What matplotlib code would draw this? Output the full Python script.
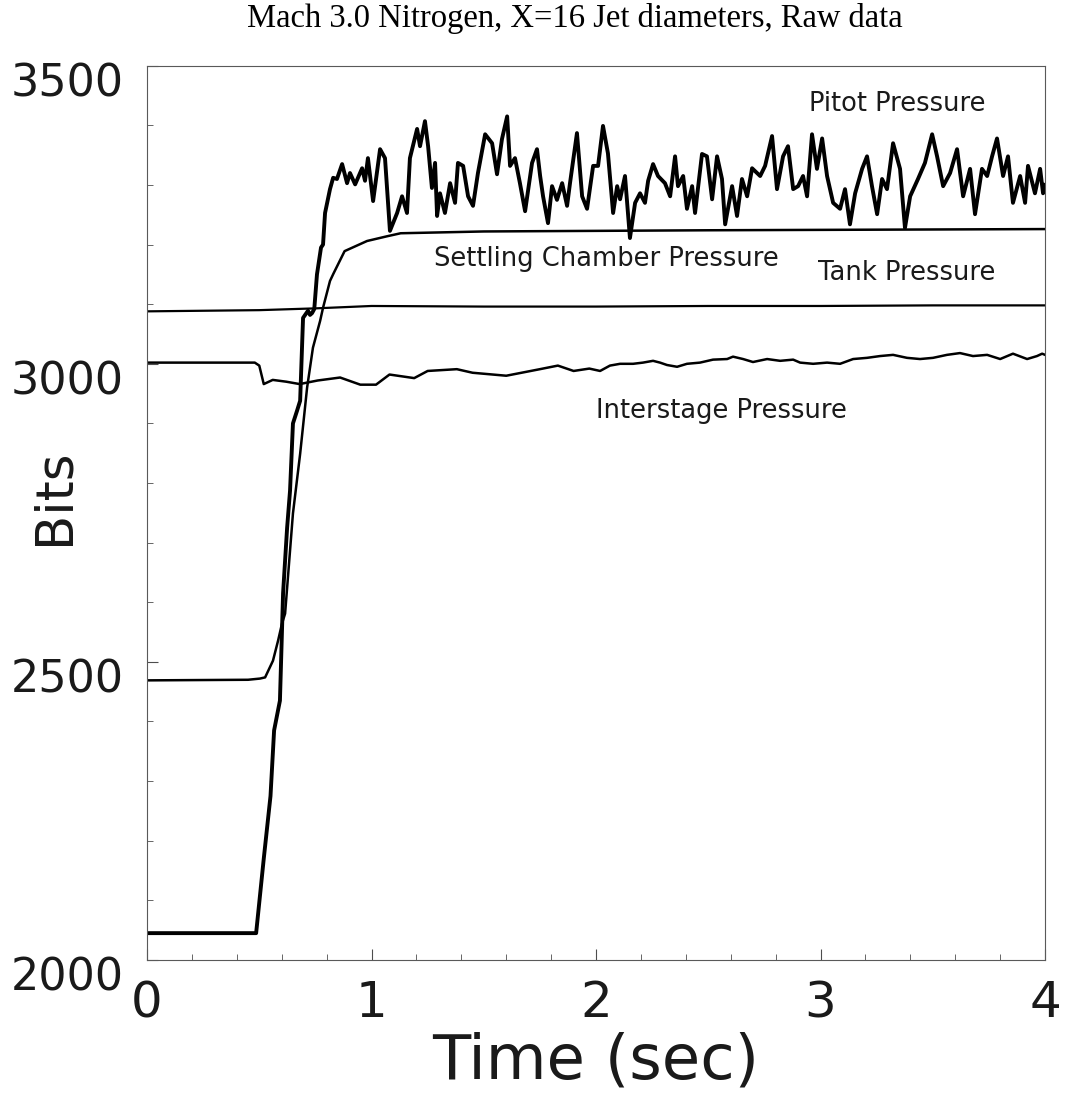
import matplotlib.pyplot as plt
from matplotlib.ticker import MultipleLocator
from matplotlib.transforms import ScaledTranslation

# values (time in sec, bits)
pitot_t = [0.0, 0.486, 0.52, 0.55, 0.566, 0.592, 0.606, 0.624, 0.637, 0.650, 0.668, 0.682, 0.695, 0.717,
           0.726, 0.735, 0.745, 0.757, 0.775, 0.784, 0.793, 0.815, 0.829, 0.846, 0.869, 0.891, 0.904, 0.927,
           0.958, 0.971, 0.984, 1.007, 1.038, 1.060, 1.082, 1.114, 1.136, 1.158, 1.171, 1.203, 1.216, 1.238,
           1.252, 1.269, 1.283, 1.292, 1.305, 1.327, 1.350, 1.372, 1.385, 1.408, 1.430, 1.452, 1.474, 1.506,
           1.537, 1.559, 1.581, 1.604, 1.617, 1.639, 1.661, 1.684, 1.715, 1.737, 1.751, 1.764, 1.786, 1.804,
           1.826, 1.849, 1.871, 1.884, 1.915, 1.938, 1.960, 1.987, 2.009, 2.031, 2.053, 2.076, 2.094, 2.107,
           2.129, 2.151, 2.174, 2.196, 2.218, 2.232, 2.254, 2.276, 2.307, 2.330, 2.352, 2.365, 2.388, 2.405,
           2.428, 2.441, 2.472, 2.494, 2.517, 2.539, 2.561, 2.575, 2.606, 2.628, 2.650, 2.673, 2.695, 2.731,
           2.753, 2.784, 2.806, 2.833, 2.855, 2.878, 2.900, 2.922, 2.940, 2.962, 2.984, 3.007, 3.029, 3.056,
           3.087, 3.109, 3.131, 3.154, 3.185, 3.207, 3.229, 3.252, 3.274, 3.296, 3.323, 3.354, 3.376, 3.399,
           3.434, 3.465, 3.497, 3.519, 3.546, 3.577, 3.608, 3.635, 3.666, 3.688, 3.719, 3.742, 3.764, 3.786,
           3.813, 3.835, 3.857, 3.889, 3.911, 3.924, 3.955, 3.978, 3.991, 4.0]
pitot_v = [2045, 2045, 2170, 2275, 2385, 2435, 2615, 2725, 2787, 2900, 2921, 2938, 3077, 3089,
           3082, 3085, 3092, 3150, 3195, 3200, 3253, 3293, 3312, 3310, 3335, 3303, 3320, 3301,
           3328, 3307, 3345, 3273, 3360, 3345, 3223, 3253, 3281, 3253, 3345, 3394, 3365, 3407,
           3365, 3295, 3337, 3248, 3286, 3253, 3303, 3270, 3337, 3332, 3281, 3265, 3320, 3385,
           3370, 3318, 3377, 3415, 3332, 3345, 3303, 3256, 3337, 3360, 3315, 3281, 3236, 3298,
           3275, 3303, 3265, 3303, 3387, 3281, 3260, 3332, 3332, 3399, 3353, 3253, 3298, 3276,
           3315, 3211, 3270, 3286, 3270, 3307, 3335, 3315, 3303, 3281, 3348, 3298, 3315, 3260,
           3298, 3253, 3352, 3348, 3276, 3348, 3310, 3234, 3298, 3248, 3310, 3281, 3328, 3315,
           3332, 3382, 3293, 3348, 3365, 3293, 3298, 3315, 3281, 3385, 3327, 3378, 3315, 3270,
           3260, 3293, 3234, 3286, 3327, 3348, 3298, 3251, 3310, 3293, 3370, 3327, 3228, 3281,
           3310, 3337, 3385, 3348, 3298, 3320, 3360, 3281, 3327, 3251, 3327, 3315, 3348, 3378,
           3315, 3348, 3270, 3315, 3270, 3332, 3286, 3327, 3286, 3300]

settling_t = [0.0, 0.45, 0.503, 0.526, 0.561, 0.584, 0.601, 0.615, 0.650, 0.682, 0.713, 0.739, 0.771,
              0.784, 0.815, 0.83, 0.88, 0.98, 1.07, 1.13, 1.5, 2.5, 4.0]
settling_v = [2469, 2470, 2472, 2474, 2502, 2536, 2564, 2581, 2749, 2849, 2960, 3027, 3072,
              3094, 3139, 3151, 3189, 3206, 3214, 3219, 3222, 3224, 3226]

tank_t = [0.0, 0.5, 0.75, 1.0, 1.5, 2.0, 2.5, 3.0, 3.5, 4.0]
tank_v = [3088, 3090, 3093, 3097, 3096, 3096, 3097, 3097, 3098, 3098]

inter_t = [0.0, 0.48, 0.50, 0.52, 0.56, 0.62, 0.68, 0.76, 0.86, 0.95, 1.02, 1.08, 1.19, 1.25, 1.38,
           1.45, 1.60, 1.75, 1.83, 1.90, 1.97, 2.018, 2.062, 2.107, 2.165, 2.209, 2.254, 2.285, 2.316,
           2.361, 2.405, 2.463, 2.521, 2.584, 2.610, 2.655, 2.699, 2.762, 2.820, 2.878, 2.909, 2.967,
           3.029, 3.087, 3.145, 3.207, 3.265, 3.323, 3.385, 3.443, 3.501, 3.563, 3.621, 3.679, 3.742,
           3.800, 3.857, 3.920, 3.964, 3.987, 4.0]
inter_v = [3002, 3002, 2997, 2966, 2973, 2970, 2966, 2972, 2977, 2965, 2965, 2982, 2976, 2988, 2991,
           2985, 2980, 2991, 2997, 2988, 2992, 2988, 2997, 3000, 3000, 3002, 3005, 3002, 2998,
           2995, 3000, 3002, 3007, 3008, 3012, 3008, 3003, 3008, 3005, 3007, 3002, 3000,
           3002, 3000, 3008, 3010, 3013, 3015, 3010, 3008, 3010, 3015, 3018, 3013, 3015,
           3008, 3017, 3008, 3013, 3017, 3015]

labels = ["Pitot Pressure", "Settling Chamber Pressure", "Tank Pressure", "Interstage Pressure"]
label_t = [3.34, 2.045, 3.385, 2.56]
label_v = [3435, 3176, 3152, 2921]

fig = plt.figure(figsize=(10.7, 11.01), dpi=100)
ax = fig.add_axes([0.1374, 0.1281, 0.8393, 0.8122])

ax.plot(pitot_t, pitot_v, color="black", lw=2.8)
ax.plot(settling_t, settling_v, color="black", lw=1.8)
ax.plot(tank_t, tank_v, color="black", lw=1.6)
ax.plot(inter_t, inter_v, color="black", lw=1.8)

for s, t, v in zip(labels, label_t, label_v):
    ax.text(t, v, s, ha="center", va="center", fontsize=18.5, color="0.1")

ax.set_xlim(0, 4)
ax.set_ylim(2000, 3500)
ax.xaxis.set_major_locator(MultipleLocator(1))
ax.xaxis.set_minor_locator(MultipleLocator(0.2))
ax.yaxis.set_major_locator(MultipleLocator(500))
ax.yaxis.set_minor_locator(MultipleLocator(100))
ax.tick_params(which="both", direction="in", top=False, right=False, color="0.3")
ax.tick_params(which="major", length=8, width=0.8)
ax.tick_params(which="minor", length=4, width=0.6)
ax.tick_params(axis="x", labelsize=36, pad=14, labelcolor="0.1")
ax.tick_params(axis="y", labelsize=32, pad=17, labelcolor="0.1")
shift = ScaledTranslation(0, -10 / 72, fig.dpi_scale_trans)
for lab in ax.get_yticklabels():
    lab.set_transform(lab.get_transform() + shift)
for sp in ax.spines.values():
    sp.set_linewidth(0.8)
    sp.set_color("0.35")

ax.set_xlabel("Time (sec)", fontsize=45, color="0.1")
ax.xaxis.set_label_coords(0.5, -0.08)
ax.set_ylabel("Bits", fontsize=37, color="0.1")
ax.yaxis.set_label_coords(-0.075, 0.518)
fig.text(0.537, 1 - 18 / 1101, "Mach 3.0 Nitrogen, X=16 Jet diameters, Raw data",
         family="Liberation Serif", fontsize=23.5, ha="center", va="center")

fig.savefig("out.png", dpi=100)
